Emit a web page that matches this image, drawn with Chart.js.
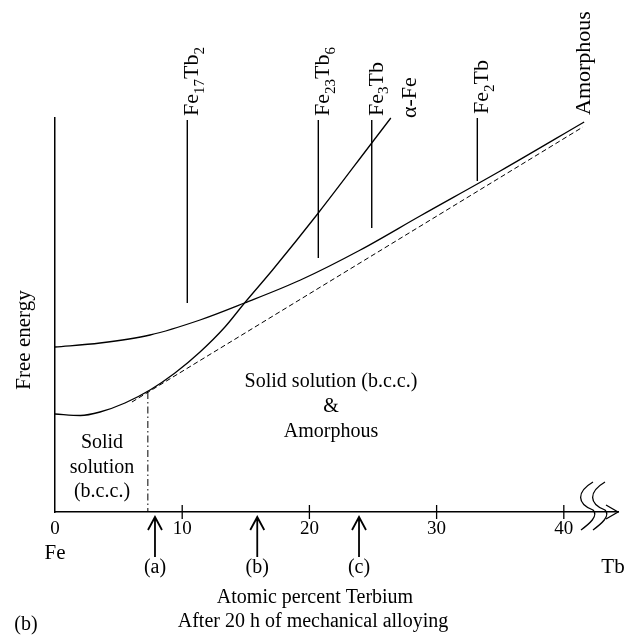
<!DOCTYPE html>
<html>
<head>
<meta charset="utf-8">
<script src="https://cdn.jsdelivr.net/npm/chart.js@4"></script>
<style>
  html, body { margin: 0; padding: 0; background: #fff; }
  canvas { display: block; }
</style>
</head>
<body>
<canvas id="chart" width="635" height="638"></canvas>
<script>
// x = atomic percent Tb, y = free energy (arbitrary units)
const tickValues = [0, 10, 20, 30, 40];

// amorphous phase curve
const amorphousX = [0, 3.54, 7.47, 11.4, 14.9, 19.3, 24.0, 28.7, 35.0, 41.6];
const amorphousY = [16.5, 16.9, 17.7, 19.2, 20.9, 23.2, 26.2, 29.6, 34.1, 39.0];

// alpha-Fe (b.c.c. solid solution) curve
const alphaFeX = [0, 2.0, 3.54, 5.5, 7.47, 9.43, 11.4, 13.36, 14.9, 17.1, 20.7, 24.9, 26.4];
const alphaFeY = [9.8, 9.65, 10.0, 10.9, 12.2, 13.9, 16.0, 18.5, 20.9, 24.2, 29.9, 36.9, 39.4];

// common tangent (dashed)
const tangentX = [6.05, 41.5];
const tangentY = [11.0, 38.5];

// solid solution limit (dash-dot)
const boundaryX = 7.3;
const boundaryTop = 12.0;

// intermetallic compounds
const phaseNames = ['Fe_17Tb_2', 'Fe_23Tb_6', 'Fe_3Tb', 'Fe_2Tb'];
const phaseX = [10.4, 20.7, 24.9, 33.2];
const phaseTop = [39.2, 39.2, 39.2, 39.4];
const phaseBottom = [20.9, 25.4, 28.4, 33.1];

// compositions marked below the axis
const arrowX = [7.86, 15.9, 23.9];
const arrowLabels = ['(a)', '(b)', '(c)'];

const FONT = '"Liberation Serif", "Times New Roman", serif';

function points(xs, ys) {
    return xs.map((x, i) => ({ x: x, y: ys[i] }));
}

function lineSet(data, extra) {
    return Object.assign({
        data: data,
        showLine: true,
        borderColor: '#000',
        borderWidth: 1.3,
        pointRadius: 0,
        clip: false
    }, extra || {});
}

// 'Fe_17Tb_2' -> Fe, 17 (subscript), Tb, 2 (subscript)
function drawSubText(ctx, str, size) {
    const parts = str.split(/(_\d+)/).filter(s => s);
    let x = 0;
    parts.forEach(p => {
        if (p[0] === '_') {
            const t = p.slice(1);
            ctx.font = Math.round(size * 0.68) + 'px ' + FONT;
            ctx.fillText(t, x, size * 0.24);
            x += ctx.measureText(t).width;
        } else {
            ctx.font = size + 'px ' + FONT;
            ctx.fillText(p, x, 0);
            x += ctx.measureText(p).width;
        }
    });
}

function rotatedText(ctx, str, x, y, size, align) {
    ctx.save();
    ctx.translate(x, y);
    ctx.rotate(-Math.PI / 2);
    ctx.textAlign = align || 'left';
    ctx.textBaseline = 'alphabetic';
    drawSubText(ctx, str, size);
    ctx.restore();
}

function text(ctx, str, x, y, size) {
    ctx.font = size + 'px ' + FONT;
    ctx.textAlign = 'center';
    ctx.textBaseline = 'middle';
    ctx.fillText(str, x, y);
}

const annotations = {
    id: 'annotations',
    afterDraw(chart) {
        const ctx = chart.ctx;
        const xs = chart.scales.x;
        const ys = chart.scales.y;
        const area = chart.chartArea;
        const axisY = area.bottom;
        const end = area.right;

        ctx.save();
        ctx.fillStyle = '#000';
        ctx.strokeStyle = '#000';
        ctx.lineWidth = 1.3;

        // tick marks crossing the axis
        tickValues.slice(1).forEach(v => {
            const px = xs.getPixelForValue(v);
            ctx.beginPath();
            ctx.moveTo(px, axisY - 7);
            ctx.lineTo(px, axisY + 7);
            ctx.stroke();
        });

        // open arrow head at the end of the axis
        ctx.beginPath();
        ctx.moveTo(end - 12, axisY - 7);
        ctx.lineTo(end, axisY);
        ctx.lineTo(end - 12, axisY + 7);
        ctx.stroke();

        // axis break marks
        [0, 12].forEach(dx => {
            const bx = end - 25 + dx;
            ctx.beginPath();
            ctx.moveTo(bx, axisY - 30);
            ctx.bezierCurveTo(bx - 17, axisY - 20, bx - 16, axisY - 8, bx, axisY - 2);
            ctx.bezierCurveTo(bx + 6, axisY + 4, bx - 4, axisY + 12, bx - 12, axisY + 18);
            ctx.stroke();
        });

        // composition arrows
        ctx.lineWidth = 1.8;
        arrowX.forEach((v, i) => {
            const px = xs.getPixelForValue(v);
            ctx.beginPath();
            ctx.moveTo(px, axisY + 45);
            ctx.lineTo(px, axisY + 5);
            ctx.moveTo(px - 7, axisY + 18);
            ctx.lineTo(px, axisY + 5);
            ctx.lineTo(px + 7, axisY + 18);
            ctx.stroke();
            text(ctx, arrowLabels[i], px, axisY + 56, 20);
        });

        // compound labels above their lines
        phaseNames.forEach((name, i) => {
            rotatedText(ctx, name, xs.getPixelForValue(phaseX[i]) + 11,
                ys.getPixelForValue(phaseTop[i]) - 4, 22);
        });

        const aLast = alphaFeX.length - 1;
        rotatedText(ctx, '\u03b1-Fe', xs.getPixelForValue(alphaFeX[aLast]) + 25,
            ys.getPixelForValue(alphaFeY[aLast]), 22);
        const mLast = amorphousX.length - 1;
        rotatedText(ctx, 'Amorphous', xs.getPixelForValue(amorphousX[mLast]) + 6,
            ys.getPixelForValue(amorphousY[mLast]) - 7, 22);

        rotatedText(ctx, 'Free energy', 30, 340, 21, 'center');

        // region labels
        text(ctx, 'Solid solution (b.c.c.)', 331, 382, 20);
        text(ctx, '&', 331, 407, 20);
        text(ctx, 'Amorphous', 331, 432, 20);
        text(ctx, 'Solid', 102, 443, 20);
        text(ctx, 'solution', 102, 468, 20);
        text(ctx, '(b.c.c.)', 102, 492, 20);

        // axis captions
        text(ctx, 'Fe', xs.getPixelForValue(0), 553, 21);
        text(ctx, 'Tb', 613, 567, 21);
        text(ctx, 'Atomic percent Terbium', 315, 598, 20);
        text(ctx, 'After 20 h of mechanical alloying', 313, 622, 20);
        text(ctx, '(b)', 26, 625, 20);

        ctx.restore();
    }
};

const datasets = [
    lineSet(points(amorphousX, amorphousY), { cubicInterpolationMode: 'monotone' }),
    lineSet(points(alphaFeX, alphaFeY), { cubicInterpolationMode: 'monotone' }),
    lineSet(points(tangentX, tangentY), { borderWidth: 1, borderDash: [5, 3] }),
    lineSet([{ x: boundaryX, y: boundaryTop }, { x: boundaryX, y: 0 }],
        { borderWidth: 1, borderDash: [7, 3, 1.5, 3] })
];
phaseX.forEach((x, i) => {
    datasets.push(lineSet([{ x: x, y: phaseTop[i] }, { x: x, y: phaseBottom[i] }], { borderWidth: 1.4 }));
});

new Chart(document.getElementById('chart'), {
    type: 'scatter',
    data: { datasets: datasets },
    options: {
        responsive: false,
        animation: false,
        layout: { padding: { top: 118, right: 17, left: 0, bottom: 0 } },
        plugins: {
            legend: { display: false },
            tooltip: { enabled: false }
        },
        scales: {
            x: {
                type: 'linear',
                min: 0,
                max: 44.26,
                grid: { display: false, drawTicks: false },
                border: { color: '#000', width: 1.5 },
                ticks: {
                    color: '#000',
                    font: { family: FONT, size: 19 },
                    padding: 6,
                    autoSkip: false,
                    maxRotation: 0
                },
                afterBuildTicks: s => { s.ticks = tickValues.map(v => ({ value: v })); },
                afterFit: s => { s.height = 126; }
            },
            y: {
                type: 'linear',
                min: 0,
                max: 39.4,
                grid: { display: false, drawTicks: false },
                border: { color: '#000', width: 1.5 },
                ticks: { display: false },
                afterFit: s => { s.width = 55; }
            }
        }
    },
    plugins: [annotations]
});
</script>
</body>
</html>
